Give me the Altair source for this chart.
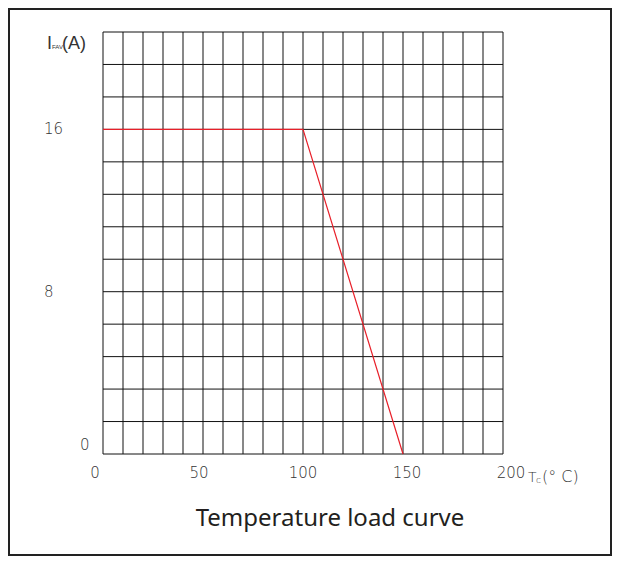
import altair as alt
import pandas as pd

# ---- data ----
curve_t = [0, 100, 150]
curve_i = [16, 16, 0]
x_grid = list(range(0, 201, 10))
y_grid = [0, 1.6, 3.2, 4.8, 6.4, 8, 9.6, 11.2, 12.8, 14.4, 16, 17.6, 19.2, 20.8]
x_labels = [0, 50, 100, 150, 200]
y_labels_upper = [16, 8]
y_labels_zero = [0]
title_text = "Temperature load curve"

# ---- style ----
W, H = 400, 422
xs = alt.Scale(domain=[0, 200], nice=False, zero=False)
ys = alt.Scale(domain=[0, 20.8], nice=False, zero=False)
num_font = "DejaVu Sans"
txt_col = "#333333"

curve_df = pd.DataFrame({"t": curve_t, "i": curve_i})
xg_df = pd.DataFrame({"v": x_grid})
yg_df = pd.DataFrame({"v": y_grid})
xl_df = pd.DataFrame({"v": x_labels, "s": [str(v) for v in x_labels]})
yl_df = pd.DataFrame({"v": y_labels_upper, "s": [str(v) for v in y_labels_upper]})
yz_df = pd.DataFrame({"v": y_labels_zero, "s": [str(v) for v in y_labels_zero]})
one = pd.DataFrame({"k": [0]})

vgrid = alt.Chart(xg_df).mark_rule(color="#111111", strokeWidth=1).encode(
    x=alt.X("v:Q", scale=xs, axis=None), y=alt.value(0), y2=alt.value(H)
)
hgrid = alt.Chart(yg_df).mark_rule(color="#111111", strokeWidth=1).encode(
    y=alt.Y("v:Q", scale=ys, axis=None), x=alt.value(0), x2=alt.value(W)
)
curve = alt.Chart(curve_df).mark_line(color="#e8202a", strokeWidth=1.2).encode(
    x=alt.X("t:Q", scale=xs, axis=None), y=alt.Y("i:Q", scale=ys, axis=None)
)
# labels in the reference sit on a slightly stretched spacing relative to the grid
xlab = alt.Chart(xl_df).transform_calculate(px="datum.v * 1.04 - 4").mark_text(
    font=num_font, fontSize=15, fontWeight=200, color=txt_col, baseline="middle", align="center"
).encode(x=alt.X("px:Q", scale=xs, axis=None), y=alt.value(441), text="s:N")
ylab = alt.Chart(yl_df).mark_text(
    font=num_font, fontSize=15, fontWeight=200, color=txt_col, baseline="middle", align="left"
).encode(y=alt.Y("v:Q", scale=ys, axis=None), x=alt.value(-59), text="s:N")
yzero = alt.Chart(yz_df).mark_text(
    font=num_font, fontSize=15, fontWeight=200, color=txt_col, baseline="middle", align="left", dy=-9
).encode(y=alt.Y("v:Q", scale=ys, axis=None), x=alt.value(-23), text="s:N")

# axis titles
ytitle_I = alt.Chart(one).mark_text(font="Liberation Sans", fontSize=18, color=txt_col, align="left", baseline="alphabetic").encode(
    x=alt.value(-56), y=alt.value(17), text=alt.value("I"))
ytitle_sub = alt.Chart(one).mark_text(font="Liberation Sans", fontSize=6, color=txt_col, align="left", baseline="alphabetic").encode(
    x=alt.value(-51), y=alt.value(17), text=alt.value("FAV"))
ytitle_A = alt.Chart(one).mark_text(font="Liberation Sans", fontSize=18, color=txt_col, align="left", baseline="alphabetic").encode(
    x=alt.value(-41), y=alt.value(17), text=alt.value("(A)"))

xtitle_T = alt.Chart(one).mark_text(font=num_font, fontSize=14, fontWeight=200, color=txt_col, align="left", baseline="alphabetic").encode(
    x=alt.value(425), y=alt.value(450), text=alt.value("T"))
xtitle_c = alt.Chart(one).mark_text(font=num_font, fontSize=9, fontWeight=200, color=txt_col, align="left", baseline="alphabetic").encode(
    x=alt.value(433), y=alt.value(451), text=alt.value("c"))
xtitle_u = alt.Chart(one).mark_text(font=num_font, fontSize=16, fontWeight=200, color=txt_col, align="left", baseline="alphabetic").encode(
    x=alt.value(439), y=alt.value(450), text=alt.value("(°  C)"))

title = alt.Chart(one).mark_text(font="Noto Sans", fontSize=24, color="#231f20", align="center", baseline="alphabetic").encode(
    x=alt.value(227), y=alt.value(494), text=alt.value(title_text))

frame = alt.Chart(one).mark_rect(fill=None, stroke="#222222", strokeWidth=2).encode(
    x=alt.value(-94), x2=alt.value(508), y=alt.value(-23), y2=alt.value(523))

chart = alt.layer(
    frame, vgrid, hgrid, curve, xlab, ylab, yzero,
    ytitle_I, ytitle_sub, ytitle_A, xtitle_T, xtitle_c, xtitle_u, title
).properties(
    width=W, height=H, autosize="none",
    padding={"left": 95, "top": 24, "right": 110, "bottom": 102},
    background="white",
).configure_view(stroke=None)

chart.save("out.html", embed_options={"renderer": "svg", "actions": False})
